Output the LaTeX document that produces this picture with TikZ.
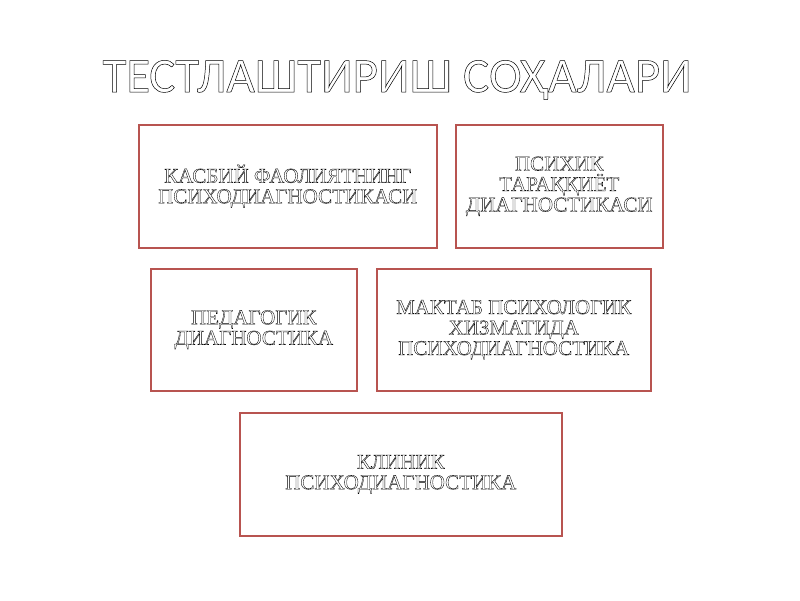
\documentclass[tikz,border=0pt]{standalone}
\usepackage{fontspec}
\setmainfont{Liberation Serif}
\newfontfamily\titlefont{Carlito}
\definecolor{boxred}{RGB}{184,84,80}
\newcommand\hollow[2][0.35]{\special{pdf:literal direct 1 Tr #1 w}#2\special{pdf:literal direct 0 Tr}}

\begin{document}
\begin{tikzpicture}[x=1pt,y=-1pt,
    area/.style={draw=boxred,line width=1.6pt,anchor=north west,inner sep=0pt,
      align=center,font=\fontsize{21}{20.5}\selectfont}]
  \useasboundingbox (0,0) rectangle (800,600);
  \node (title) at (397,80) {\titlefont\fontsize{49}{49}\selectfont
    \hollow[0.5]{ТЕСТЛАШТИРИШ СОҲАЛАРИ}};
  \node[area,minimum width=298pt,minimum height=123pt] (kasb) at (138,124)
    {\hollow{КАСБИЙ ФАОЛИЯТНИНГ}\\\hollow{ПСИХОДИАГНОСТИКАСИ}};
  \node[area,minimum width=207pt,minimum height=123pt] (taraq) at (455,124)
    {\hollow{ПСИХИК}\\\hollow{ТАРАҚҚИЁТ}\\\hollow{ДИАГНОСТИКАСИ}};
  \node[area,minimum width=206pt,minimum height=122pt] (ped) at (150,268)
    {\hollow{ПЕДАГОГИК}\\\hollow{ДИАГНОСТИКА}};
  \node[area,minimum width=274pt,minimum height=122pt] (maktab) at (376,268)
    {\hollow{МАКТАБ ПСИХОЛОГИК}\\\hollow{ХИЗМАТИДА}\\\hollow{ПСИХОДИАГНОСТИКА}};
  \node[area,minimum width=322pt,minimum height=123pt] (klin) at (239,412)
    {\hollow{КЛИНИК}\\\hollow{ПСИХОДИАГНОСТИКА}};
\end{tikzpicture}
\end{document}
